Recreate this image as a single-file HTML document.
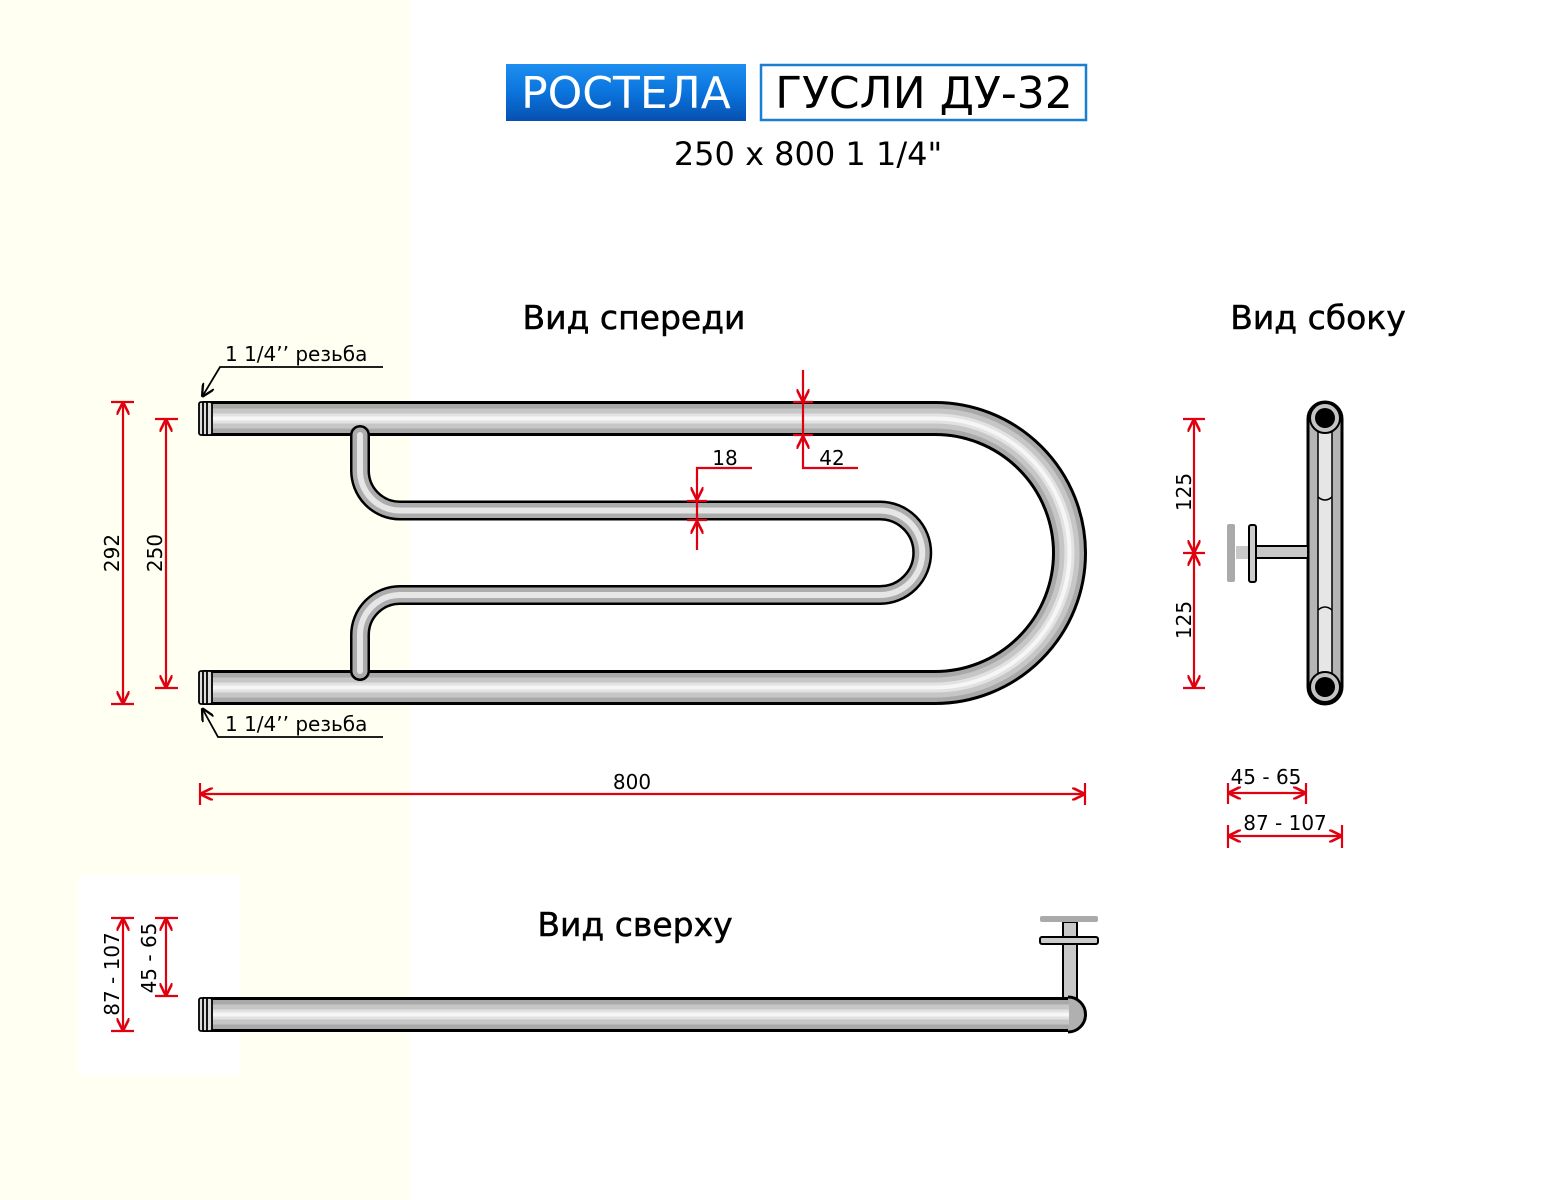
<!DOCTYPE html>
<html><head><meta charset="utf-8"><style>
html,body{margin:0;padding:0;background:#fff}
svg{display:block}
text{font-family:"DejaVu Sans","Liberation Sans",sans-serif}
</style></head><body>
<svg width="1556" height="1200" viewBox="0 0 1556 1200" xmlns="http://www.w3.org/2000/svg">
<defs>
<linearGradient id="bl" x1="0" y1="0" x2="0" y2="1">
<stop offset="0" stop-color="#1e8ef0"/><stop offset="0.5" stop-color="#0a74dc"/><stop offset="1" stop-color="#0650b0"/>
</linearGradient>
<marker id="ar" viewBox="0 0 10 10" refX="10" refY="5" markerWidth="13" markerHeight="13" markerUnits="userSpaceOnUse" orient="auto-start-reverse">
<path d="M0,0 L10,5 L0,10" fill="none" stroke="#e00010" stroke-width="2"/>
</marker>
<marker id="ak" viewBox="0 0 10 10" refX="10" refY="5" markerWidth="13" markerHeight="13" markerUnits="userSpaceOnUse" orient="auto">
<path d="M0,0 L10,5 L0,10" fill="none" stroke="#000" stroke-width="1.8"/>
</marker>
</defs>
<rect x="0" y="0" width="410" height="1200" fill="#fffff2"/>
<rect x="78" y="875" width="162" height="200" fill="#fff"/>

<!-- title -->
<rect x="506" y="64" width="240" height="57" fill="url(#bl)"/>
<text x="626" y="108" font-size="44" fill="#fff" text-anchor="middle" font-family="Liberation Sans">РОСТЕЛА</text>
<rect x="761" y="65" width="325" height="55" fill="#fff" stroke="#1a7fd0" stroke-width="2.5"/>
<text x="924" y="108" font-size="44" fill="#000" text-anchor="middle" font-family="Liberation Sans">ГУСЛИ ДУ-32</text>
<text x="808" y="165" font-size="32" fill="#000" text-anchor="middle">250 x 800 1 1/4"</text>

<text x="634" y="329" font-size="33" text-anchor="middle" stroke="#000" stroke-width="0.5">Вид спереди</text>
<text x="1318" y="329" font-size="33" text-anchor="middle" stroke="#000" stroke-width="0.5">Вид сбоку</text>
<text x="635" y="936" font-size="33" text-anchor="middle" stroke="#000" stroke-width="0.5">Вид сверху</text>

<!-- front view big tube -->
<g fill="none" stroke-linecap="butt">
<path d="M203,418.5 H935 A134.5,134.5 0 0 1 935,687.5 H203" stroke="#000" stroke-width="35"/>
<path d="M203,418.5 H935 A134.5,134.5 0 0 1 935,687.5 H203" stroke="#a9a9a9" stroke-width="29"/>
<path d="M203,418.5 H935 A134.5,134.5 0 0 1 935,687.5 H203" stroke="#c6c6c6" stroke-width="20"/>
<path d="M203,418.5 H935 A134.5,134.5 0 0 1 935,687.5 H203" stroke="#e2e2e2" stroke-width="10"/>
<path d="M203,418.5 H935 A134.5,134.5 0 0 1 935,687.5 H203" stroke="#f6f6f6" stroke-width="4"/>
</g>
<!-- inner thin tube -->
<g fill="none" stroke-linecap="round">
<path d="M360,435 V470 A40,40 0 0 0 400,510.5 H880 A42.25,42.25 0 0 1 880,595 H400 A40,40 0 0 0 360,635 V671" stroke="#000" stroke-width="20"/>
<path d="M360,435 V470 A40,40 0 0 0 400,510.5 H880 A42.25,42.25 0 0 1 880,595 H400 A40,40 0 0 0 360,635 V671" stroke="#acacac" stroke-width="15"/>
<path d="M360,435 V470 A40,40 0 0 0 400,510.5 H880 A42.25,42.25 0 0 1 880,595 H400 A40,40 0 0 0 360,635 V671" stroke="#e6e6e6" stroke-width="6"/>
</g>
<!-- threads -->
<g stroke="#000" stroke-width="1.8" fill="#ddd">
<rect x="199" y="402" width="13" height="33" rx="2"/>
<line x1="203" y1="402" x2="203" y2="435"/><line x1="207" y1="402" x2="207" y2="435"/>
<rect x="199" y="671" width="13" height="33" rx="2"/>
<line x1="203" y1="671" x2="203" y2="704"/><line x1="207" y1="671" x2="207" y2="704"/>
</g>
<!-- thread leaders -->
<g stroke="#000" stroke-width="1.8" fill="none">
<polyline points="383,367 220,367 202,397" marker-end="url(#ak)"/>
<polyline points="383,737 218,737 202,708" marker-end="url(#ak)"/>
</g>
<text x="225" y="361" font-size="20">1 1/4’’ резьба</text>
<text x="225" y="731" font-size="20">1 1/4’’ резьба</text>

<!-- red dims front -->
<g stroke="#e00010" stroke-width="2.2" fill="none">
<line x1="123" y1="402" x2="123" y2="704" marker-start="url(#ar)" marker-end="url(#ar)"/>
<line x1="111" y1="402" x2="134" y2="402"/><line x1="111" y1="704" x2="134" y2="704"/>
<line x1="166" y1="419" x2="166" y2="688" marker-start="url(#ar)" marker-end="url(#ar)"/>
<line x1="155" y1="419" x2="178" y2="419"/><line x1="155" y1="688" x2="178" y2="688"/>
<line x1="200" y1="794" x2="1085" y2="794" marker-start="url(#ar)" marker-end="url(#ar)"/>
<line x1="200" y1="783" x2="200" y2="805"/><line x1="1085" y1="783" x2="1085" y2="805"/>
<!-- 42 -->
<line x1="803" y1="370" x2="803" y2="402" marker-end="url(#ar)"/>
<line x1="803" y1="402" x2="803" y2="435"/>
<line x1="793" y1="402" x2="813" y2="402"/><line x1="793" y1="435" x2="813" y2="435"/>
<polyline points="858,468 803,468 803,436" marker-end="url(#ar)"/>
<!-- 18 -->
<polyline points="752,468 697,468 697,500" marker-end="url(#ar)"/>
<line x1="697" y1="501" x2="697" y2="520"/>
<line x1="687" y1="501" x2="707" y2="501"/><line x1="687" y1="520" x2="707" y2="520"/>
<line x1="697" y1="550" x2="697" y2="521" marker-end="url(#ar)"/>
<!-- side dims -->
<line x1="1194" y1="419" x2="1194" y2="553" marker-start="url(#ar)" marker-end="url(#ar)"/>
<line x1="1194" y1="553" x2="1194" y2="688" marker-start="url(#ar)" marker-end="url(#ar)"/>
<line x1="1183" y1="419" x2="1205" y2="419"/><line x1="1183" y1="553" x2="1205" y2="553"/><line x1="1183" y1="688" x2="1205" y2="688"/>
<line x1="1228" y1="793" x2="1306" y2="793" marker-start="url(#ar)" marker-end="url(#ar)"/>
<line x1="1228" y1="783" x2="1228" y2="804"/><line x1="1306" y1="783" x2="1306" y2="804"/>
<line x1="1228" y1="836" x2="1342" y2="836" marker-start="url(#ar)" marker-end="url(#ar)"/>
<line x1="1228" y1="825" x2="1228" y2="848"/><line x1="1342" y1="825" x2="1342" y2="848"/>
<!-- top view dims -->
<line x1="123" y1="918" x2="123" y2="1031" marker-start="url(#ar)" marker-end="url(#ar)"/>
<line x1="111" y1="918" x2="134" y2="918"/><line x1="111" y1="1031" x2="134" y2="1031"/>
<line x1="166" y1="918" x2="166" y2="996" marker-start="url(#ar)" marker-end="url(#ar)"/>
<line x1="155" y1="918" x2="178" y2="918"/><line x1="155" y1="996" x2="178" y2="996"/>
</g>
<g font-size="20" fill="#000">
<text x="832" y="465" text-anchor="middle">42</text>
<text x="725" y="465" text-anchor="middle">18</text>
<text x="632" y="789" text-anchor="middle">800</text>
<text x="1266" y="784" text-anchor="middle">45 - 65</text>
<text x="1285" y="830" text-anchor="middle">87 - 107</text>
<text transform="translate(119,553) rotate(-90)" text-anchor="middle">292</text>
<text transform="translate(162,553) rotate(-90)" text-anchor="middle">250</text>
<text transform="translate(1191,492) rotate(-90)" text-anchor="middle">125</text>
<text transform="translate(1191,620) rotate(-90)" text-anchor="middle">125</text>
<text transform="translate(119,974) rotate(-90)" text-anchor="middle">87 - 107</text>
<text transform="translate(156,958) rotate(-90)" text-anchor="middle">45 - 65</text>
</g>

<!-- side view -->
<rect x="1308" y="402" width="34" height="302" rx="17" fill="#b5b5b5" stroke="#000" stroke-width="3"/>
<rect x="1318" y="420" width="14" height="266" fill="#e6e6e6" stroke="#000" stroke-width="1.5"/>
<path d="M1318,497 Q1325,503 1332,497" stroke="#000" stroke-width="1.5" fill="none"/>
<path d="M1318,610 Q1325,604 1332,610" stroke="#000" stroke-width="1.5" fill="none"/>
<circle cx="1325" cy="418" r="15" fill="#c4c4c4" stroke="#000" stroke-width="2"/>
<circle cx="1325" cy="418" r="10" fill="#000"/>
<circle cx="1325" cy="687" r="15" fill="#c4c4c4" stroke="#000" stroke-width="2"/>
<circle cx="1325" cy="687" r="10" fill="#000"/>
<rect x="1236" y="546" width="14" height="13" fill="#c8c8c8"/>
<rect x="1250" y="546" width="58" height="12" fill="#c8c8c8" stroke="#000" stroke-width="2"/>
<rect x="1227" y="524" width="8" height="58" rx="2" fill="#aaa"/>
<rect x="1249" y="525" width="7" height="57" rx="2" fill="#ccc" stroke="#000" stroke-width="2"/>

<!-- top view -->
<rect x="1063" y="922" width="14" height="78" fill="#c8c8c8" stroke="#000" stroke-width="2"/>
<rect x="1040" y="916" width="58" height="6" rx="2" fill="#aaa"/>
<rect x="1040" y="937" width="58" height="7" rx="2" fill="#ccc" stroke="#000" stroke-width="2"/>
<path d="M1068,997 A17.5,17.5 0 0 1 1068,1032" fill="#b0b0b0" stroke="#000" stroke-width="3"/>
<g fill="none">
<path d="M203,1014.5 H1068" stroke="#000" stroke-width="35"/>
<path d="M203,1014.5 H1069" stroke="#a9a9a9" stroke-width="29"/>
<path d="M203,1014.5 H1069" stroke="#c6c6c6" stroke-width="20"/>
<path d="M203,1014.5 H1069" stroke="#e2e2e2" stroke-width="10"/>
<path d="M203,1014.5 H1069" stroke="#f6f6f6" stroke-width="4"/>
</g>
<g stroke="#000" stroke-width="1.8" fill="#ddd">
<rect x="199" y="998" width="13" height="33" rx="2"/>
<line x1="203" y1="998" x2="203" y2="1031"/><line x1="207" y1="998" x2="207" y2="1031"/>
</g>
</svg>
</body></html>
